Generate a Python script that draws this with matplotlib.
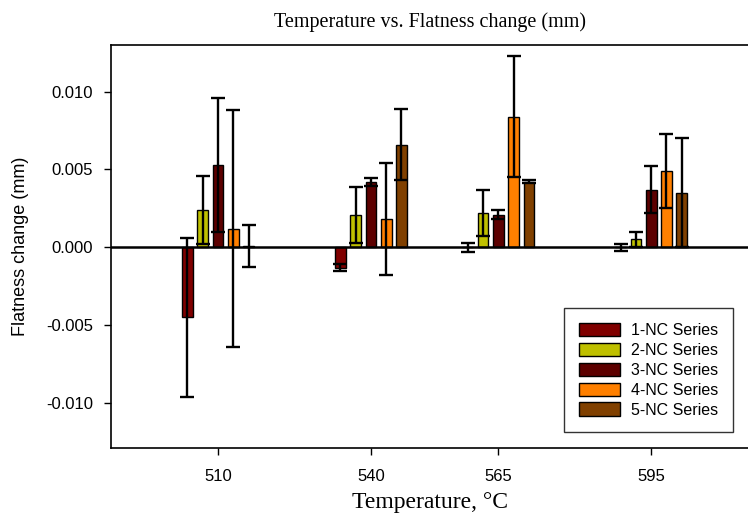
import numpy as np
import matplotlib
matplotlib.use("Agg")
import matplotlib.pyplot as plt

# temperatures (°C) and series
temps = [510, 540, 565, 595]
series = ["1-NC Series", "2-NC Series", "3-NC Series", "4-NC Series", "5-NC Series"]

nc1 = [-0.0045, -0.0013, 0.0000, 0.0000]
nc2 = [0.0024, 0.0021, 0.0022, 0.0005]
nc3 = [0.0053, 0.0042, 0.0021, 0.0037]
nc4 = [0.0012, 0.0018, 0.0084, 0.0049]
nc5 = [0.0001, 0.0066, 0.0042, 0.0035]

err1 = [0.0051, 0.0002, 0.0003, 0.00024]
err2 = [0.0022, 0.0018, 0.0015, 0.0005]
err3 = [0.0043, 0.00025, 0.0003, 0.0015]
err4 = [0.0076, 0.0036, 0.0039, 0.0024]
err5 = [0.00135, 0.0023, 0.0001, 0.0035]

colors = ["#800000", "#bfc000", "#5c0000", "#ff8000", "#804000"]

means = [nc1, nc2, nc3, nc4, nc5]
errs = [err1, err2, err3, err4, err5]

fig = plt.figure(figsize=(7.48, 5.19), dpi=100)
ax = fig.add_axes([111 / 748, 71 / 519, 637 / 748, 403 / 519])

x = np.array(temps, dtype=float)
step = 3.0
width = 2.1
for i in range(5):
    xs = x + (i - 2) * step
    ax.bar(xs, means[i], width=width, color=colors[i], edgecolor="black",
           linewidth=1.0, label=series[i], zorder=2)
    ax.errorbar(xs, means[i], yerr=errs[i], fmt="none", ecolor="black",
                elinewidth=1.7, capsize=5, capthick=1.7, zorder=3)

ax.axhline(0, color="black", lw=1.8, zorder=4)

ax.set_xlim(489, 614)
ax.set_ylim(-0.0129, 0.0130)
ax.set_xticks(temps)
ax.set_xticklabels([str(t) for t in temps])
ax.set_yticks([-0.010, -0.005, 0.0, 0.005, 0.010])
ax.set_yticklabels(["-0.010", "-0.005", "0.000", "0.005", "0.010"])
ax.tick_params(axis="y", direction="out", length=5, width=1, labelsize=12,
               pad=8)
ax.tick_params(axis="x", direction="out", length=5, width=1, labelsize=12,
               pad=10)
for lab in ax.get_xticklabels() + ax.get_yticklabels():
    lab.set_fontfamily("Liberation Sans")

ax.spines["right"].set_visible(False)
for s in ["left", "top", "bottom"]:
    ax.spines[s].set_linewidth(1.2)

ax.set_title("Temperature vs. Flatness change (mm)", family="Liberation Serif",
             fontsize=14.5, pad=13)
ax.set_xlabel("Temperature, °C", family="Liberation Serif", fontsize=17,
              labelpad=6)
ax.set_ylabel("Flatness change (mm)", family="Liberation Sans", fontsize=13,
              labelpad=12)

leg = ax.legend(loc="lower right", bbox_to_anchor=(733 / 748, 87 / 519),
                bbox_transform=fig.transFigure, borderaxespad=0,
                frameon=True, fancybox=False,
                edgecolor="black", handlelength=2.6, handleheight=0.9,
                borderpad=0.9, labelspacing=0.3, handletextpad=0.7,
                prop={"family": "Liberation Sans", "size": 11.5})
leg.get_frame().set_linewidth(1.0)

plt.savefig("out.png", dpi=100)
